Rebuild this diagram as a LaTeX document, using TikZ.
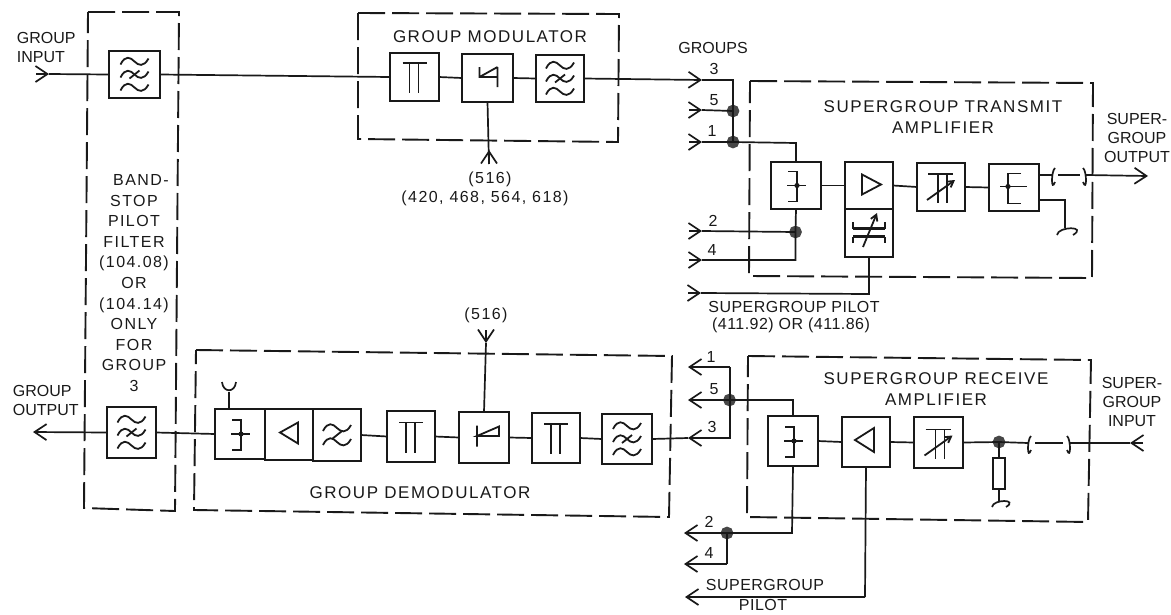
\documentclass[tikz,border=0pt]{standalone}
\usepackage{fontspec}
\usetikzlibrary{arrows.meta}
\setmainfont{Liberation Sans}
\newfontfamily\ttlfont[LetterSpace=9]{Liberation Sans}
\newfontfamily\labfont[LetterSpace=3]{Liberation Sans}
\newfontfamily\numfont[LetterSpace=9]{Liberation Sans}
\definecolor{ink}{gray}{0.1}
\tikzset{
  >={Straight Barb[length=12pt,width=16pt,line width=1.7pt]},
  base/.style={x=1pt,y=-1pt,line width=1.7pt,draw=ink,text=ink},
  blk/.style={draw=ink,rectangle,line width=1.8pt,outer sep=0pt,inner sep=0pt,fill=white},
  dashbox/.style={draw=ink,line width=1.9pt,dash pattern=on 27pt off 7pt},
  jdot/.style={circle,fill=black!72,draw=black!72,minimum size=11pt,inner sep=0pt,outer sep=0pt},
  ttl/.style={font=\ttlfont\fontsize{17}{21}\selectfont,align=center,inner sep=0pt},
  side/.style={font=\fontsize{16}{19}\selectfont,align=left,inner sep=0pt},
  lab/.style={font=\labfont\fontsize{16}{18}\selectfont,align=center,inner sep=0pt},
  num/.style={font=\numfont\fontsize{16}{18}\selectfont,align=center,inner sep=0pt},
  sym/.style={line width=1.8pt,draw=ink},
}
\newcommand{\symat}[2]{\begin{scope}[shift={(#1)}]#2\end{scope}}
\newcommand{\tildeat}[1]{\draw[sym] (-14,#1+3) .. controls (-9,#1-7) and (-4,#1-4) .. (0,#1) .. controls (4,#1+4) and (9,#1+6) .. (14,#1-3);}
\newcommand{\threewave}[1]{\symat{#1}{\tildeat{-13}\tildeat{0}\tildeat{13}\draw[sym] (-5,4)--(5,-4);}}
\newcommand{\twowave}[1]{\symat{#1}{\tildeat{-7}\tildeat{7}\draw[sym] (-5,4)--(5,-4);}}
\newcommand{\pisym}[1]{\symat{#1}{\draw[sym] (-12,-14)--(12,-14) (-5,-14)--(-5,16) (4,-14)--(4,16);}}
\newcommand{\hybR}[1]{\symat{#1}{\draw[sym] (-8,-14)--(1,-14)--(1,16)--(-8,16) (-9,0)--(10,0);\fill[ink] (1,0) circle (2.6);}}
\newcommand{\attsym}[1]{\symat{#1}{\draw[sym] (-13,-13)--(12,-13) (-3,-13)--(-3,16) (6,-13)--(6,16);\draw[sym,-{Straight Barb[length=6pt,width=7pt]}] (-14,13)--(14,-7);}}
\begin{document}
\begin{tikzpicture}[base]
\useasboundingbox (0,0) rectangle (1171,614);
% blocks
\node[blk,minimum width=51pt,minimum height=47pt] (bsfa) at (134.5,74.5) {};
\node[blk,minimum width=49pt,minimum height=48pt] (pia) at (414.5,77) {};
\node[blk,minimum width=51pt,minimum height=48pt] (moda) at (487.5,78) {};
\node[blk,minimum width=48pt,minimum height=47pt] (fa) at (560,78.5) {};
\node[blk,minimum width=50pt,minimum height=47pt] (hya) at (796,185.5) {};
\node[blk,minimum width=48pt,minimum height=47pt] (ampa) at (869,185.5) {};
\node[blk,minimum width=48pt,minimum height=48pt] (eqa) at (869,233) {};
\node[blk,minimum width=48pt,minimum height=48pt] (atta) at (941,187) {};
\node[blk,minimum width=50pt,minimum height=47pt] (hyb) at (1014,187.5) {};
\node[blk,minimum width=49pt,minimum height=51pt] (bsfb) at (131.5,432.5) {};
\node[blk,minimum width=50pt,minimum height=50pt] (ghy) at (240,434) {};
\node[blk,minimum width=48pt,minimum height=51pt] (gamp) at (289,434.5) {};
\node[blk,minimum width=48pt,minimum height=52pt] (glp) at (337,435) {};
\node[blk,minimum width=48pt,minimum height=51pt] (gpia) at (411,436.5) {};
\node[blk,minimum width=50pt,minimum height=51pt] (dem) at (484,437.5) {};
\node[blk,minimum width=48pt,minimum height=50pt] (gpib) at (556,438) {};
\node[blk,minimum width=50pt,minimum height=50pt] (gf) at (627,439) {};
\node[blk,minimum width=50pt,minimum height=50pt] (rhy) at (793,441) {};
\node[blk,minimum width=48pt,minimum height=50pt] (ramp) at (866,442) {};
\node[blk,minimum width=49pt,minimum height=51pt] (ratt) at (938.5,442.5) {};
\node[blk,minimum width=12pt,minimum height=31pt] (res) at (999,473.5) {};
% junctions
\node[jdot] (dfive) at (733,111) {};
\node[jdot] (done) at (733,142) {};
\node[jdot] (dtwo) at (795.5,232) {};
\node[jdot] (rfive) at (729.5,400) {};
\node[jdot] (rtwo) at (727,533) {};
\node[jdot] (rin) at (999,442) {};
% free ends
\coordinate (iin) at (36,74); \coordinate (iint) at (49,74);
\coordinate (go) at (33,432);
\coordinate (lo) at (489,164); \coordinate (lot) at (489,150);
\coordinate (tthree) at (702,80);
\coordinate (cthree) at (733,80);
\coordinate (ifive) at (689,110); \coordinate (tfive) at (702,110);
\coordinate (ione) at (689,142); \coordinate (tone) at (702,142);
\coordinate (itwo) at (689,231); \coordinate (ttwo) at (702,231);
\coordinate (ifour) at (689,260); \coordinate (tfour) at (702,260);
\coordinate (ipil) at (688,293); \coordinate (tpil) at (701,293);
\coordinate (cpil) at (869,294);
\coordinate (cfour) at (795.5,260);
\coordinate (cone) at (796,143);
\coordinate (oa) at (1039,175); \coordinate (ob) at (1039,200);
\coordinate (cob) at (1065,200); \coordinate (capb) at (1065,228);
\coordinate (pla) at (1052,175); \coordinate (plb) at (1058,175);
\coordinate (plc) at (1080,175); \coordinate (pld) at (1086,175);
\coordinate (sgo) at (1148,176);
\coordinate (ldin) at (486,330); \coordinate (ldt) at (486,343);
\coordinate (ant) at (229,392);
\coordinate (rone) at (688,367); \coordinate (cra) at (730,367);
\coordinate (rfo) at (688,400);
\coordinate (rt) at (701,438); \coordinate (rtt) at (688,438); \coordinate (crt) at (730,438);
\coordinate (crf) at (793,400);
\coordinate (rtwot) at (684,533); \coordinate (rfourt) at (684,564);
\coordinate (crfour) at (727,564); \coordinate (crtwo) at (792,533);
\coordinate (rpilc) at (865,597); \coordinate (rpilt) at (685,597);
\coordinate (sgia) at (1143,443); \coordinate (sgib) at (1130,443);
\coordinate (qa) at (1070,443); \coordinate (qb) at (1063,443);
\coordinate (qc) at (1035,443); \coordinate (qd) at (1028,443);
\coordinate (capc) at (999,501);
% dashed frames
\draw[dashbox] (88,12)--(179,12)--(175,511)--(84,508)--cycle;
\draw[dashbox] (358,13)--(619,14)--(618,142)--(358,139)--cycle;
\draw[dashbox] (750,81)--(1093,83)--(1092,278)--(749,276)--cycle;
\draw[dashbox] (196,350)--(672,356)--(669,517)--(194,510)--cycle;
\draw[dashbox] (748,356)--(1091,360)--(1088,522)--(747,517)--cycle;
% upper path connectors
\draw[->] (iin)--(iint);
\draw (iint)--(bsfa.west);
\draw (bsfa.east)--(pia.west);
\draw (pia.east)--(moda.west);
\draw (moda.east)--(fa.west);
\draw[->] (fa.east)--(tthree);
\draw (tthree)--(cthree)--(done.center);
\draw[->] (lo)--(lot);
\draw (lo)--(moda.south);
\draw[->] (ifive)--(tfive); \draw (tfive)--(dfive.center);
\draw[->] (ione)--(tone); \draw (tone)--(done.center)--(cone)--(hya.north);
\draw[->] (itwo)--(ttwo); \draw (ttwo)--(dtwo.center);
\draw[->] (ifour)--(tfour); \draw (tfour)--(cfour)--(dtwo.center)--(hya.south);
\draw[->] (ipil)--(tpil); \draw (tpil)--(cpil)--(eqa.south);
\draw (hya.east)--(ampa.west);
\draw (ampa.east)--(atta.west);
\draw (atta.east)--(hyb.west);
\draw (oa)--(pla);
\draw (plb)--(plc);
\draw[->] (pld)--(sgo);
\draw (ob)--(cob)--(capb);
\draw (pla)++(3,-7) .. controls +(-4,3) and +(-4,11) .. +(0,14);
\draw (pld)++(-3,-7) .. controls +(4,3) and +(4,11) .. +(0,14);
\draw (capb)++(-8,7) .. controls +(1,-9) and +(15,-9) .. +(16,0);
% lower path connectors
\draw[->] (bsfb.west)--(go);
\draw (ghy.west)--(bsfb.east);
\draw (glp.east)--(gpia.west);
\draw (gpia.east)--(dem.west);
\draw (dem.east)--(gpib.west);
\draw (gpib.east)--(gf.west);
\draw[->] (ldin)--(ldt);
\draw (ldt)--(dem.north);
\draw (ant)--(ghy.north-|ant);
\draw (222,382) .. controls (223,393) and (235,393) .. (236,382);
\draw (gf.east)--(rtt);
\draw[->] (rt)--(rtt);
\draw (rt)--(crt)--(cra);
\draw[->] (cra)--(rone);
\draw[->] (rfive.center)--(rfo);
\draw (rfive.center)--(crf)--(rhy.north);
\draw (rhy.south)--(crtwo)--(rtwo.center);
\draw[->] (rtwo.center)--(rtwot);
\draw (rtwo.center)--(crfour);
\draw[->] (crfour)--(rfourt);
\draw (ramp.south)--(rpilc);
\draw[->] (rpilc)--(rpilt);
\draw (rhy.east)--(ramp.west);
\draw (ramp.east)--(ratt.west);
\draw (ratt.east)--(rin.center);
\draw (rin.center)--(qd);
\draw (qc)--(qb);
\draw (qa)--(sgib);
\draw[->] (sgia)--(sgib);
\draw (qd)++(3,-7) .. controls +(-4,3) and +(-4,11) .. +(0,14);
\draw (qa)++(-3,-7) .. controls +(4,3) and +(4,11) .. +(0,14);
\draw (rin.center)--(res.north);
\draw (res.south)--(capc);
\draw (capc)++(-7,6) .. controls +(1,-8) and +(13,-8) .. +(14,0);
% block symbols
\threewave{bsfa.center}
\threewave{fa.center}
\threewave{bsfb.center}
\threewave{gf.center}
\twowave{glp.center}
\pisym{pia.center}
\pisym{gpia.center}
\pisym{gpib.center}
\symat{moda.center}{\draw[sym] (-8,-11)--(-8,-1)--(10,-1) (10,-11)--(10,9) (-8,-1)--(10,-11);}
\symat{dem.center}{\draw[sym] (-7,-12)--(-7,9) (-7,-1.5)--(15,-1.5)--(15,-11)--cycle;}
\hybR{hya.center}
\hybR{ghy.center}
\hybR{rhy.center}
\symat{hyb.center}{\draw[sym] (7,-14)--(-6,-14)--(-6,16)--(7,16) (-14,-1)--(13,-1);\fill[ink] (-6,-1) circle (2.6);}
\symat{ampa.center}{\draw[sym] (-7,-11)--(-7,9)--(12,-1)--cycle;}
\symat{gamp.center}{\draw[sym] (-9,-2)--(9,-12)--(9,9)--cycle;}
\symat{ramp.center}{\draw[sym] (-11,-2)--(8,-14)--(8,10)--cycle;}
\attsym{atta.center}
\attsym{ratt.center}
\symat{eqa.center}{\draw[sym] (-16,-11)--(-16,-5)--(16,-5)--(16,-11) (-16,-3.5)--(16,-3.5) (-16,3)--(16,3) (-16,10)--(-16,4.5)--(16,4.5)--(16,10);\draw[sym,-{Straight Barb[length=6pt,width=7pt]}] (-6,14)--(8,-20);}
% labels
\node[side,anchor=west] (tginp) at (16,47) {GROUP\\INPUT};
\node[side,anchor=west] (tgout) at (12,400) {GROUP\\OUTPUT};
\node[num,font=\numfont\fontsize{16}{20.6}\selectfont] (tbsf) at (134,283) {\hspace*{14pt}BAND-\\STOP\\PILOT\\FILTER\\(104.08)\\OR\\(104.14)\\ONLY\\FOR\\GROUP\\3};
\node[ttl] (tgm) at (490,37) {GROUP MODULATOR};
\node[num] (tf) at (490,179) {(516)};
\node[num] (tfs) at (485,198) {(420, 468, 564, 618)};
\node[side,align=center] (tgrp) at (713,48) {GROUPS};
\node[side] (nthree) at (714,69) {3};
\node[side] (nfive) at (714,100) {5};
\node[side] (none) at (712,131) {1};
\node[side] (ntwo) at (713,221) {2};
\node[side] (nfour) at (712,250) {4};
\node[ttl] (tsta) at (943,117) {SUPERGROUP TRANSMIT\\AMPLIFIER};
\node[side,align=center] (tsgo) at (1137,138) {SUPER-\\GROUP\\OUTPUT};
\node[lab] (tpil) at (794,307) {SUPERGROUP PILOT};
\node[lab] (tpilf) at (791,325) {(411.92) OR (411.86)};
\node[num] (tdf) at (486,315) {(516)};
\node[ttl] (tgd) at (420,493) {GROUP DEMODULATOR};
\node[side] (rnone) at (711,357) {1};
\node[side] (rnfive) at (714,389) {5};
\node[side] (rnthree) at (712,427) {3};
\node[side] (rntwo) at (709,522) {2};
\node[side] (rnfour) at (709,553) {4};
\node[ttl] (tsra) at (936,389) {SUPERGROUP RECEIVE\\AMPLIFIER};
\node[side,align=center] (tsgi) at (1132,402) {SUPER-\\GROUP\\INPUT};
\node[lab] (trp) at (765,585) {SUPERGROUP};
\node[lab] (trpb) at (763,605) {PILOT};
\end{tikzpicture}
\end{document}
